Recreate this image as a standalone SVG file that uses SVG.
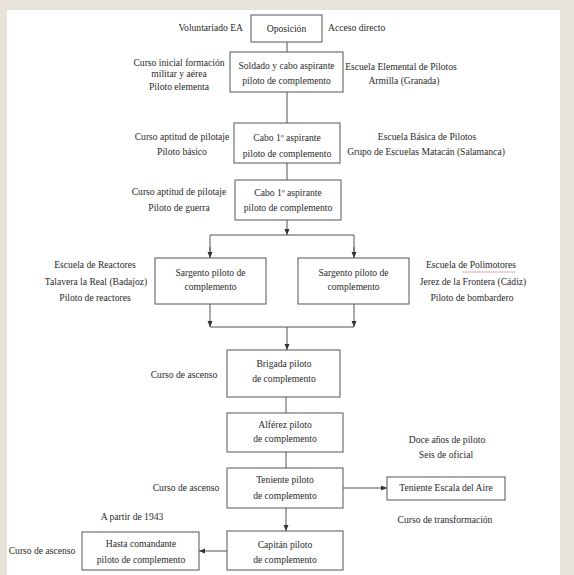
<svg xmlns="http://www.w3.org/2000/svg" width="574" height="575" viewBox="0 0 574 575">
<defs>
<style>
text{font-family:"Liberation Serif","Times New Roman",serif}
.t{font-size:9.6px;fill:#2a2a2a;text-anchor:middle}
.b{fill:#fff;stroke:#555;stroke-width:1}
.c{fill:none;stroke:#555;stroke-width:1}
</style>
<marker id="ah" viewBox="0 0 6 6" refX="6" refY="3" markerWidth="6" markerHeight="6" orient="auto" markerUnits="userSpaceOnUse">
<path d="M0,0.5 L6,3 L0,5.5 Z" fill="#333"/>
</marker>
</defs>
<rect x="0" y="0" width="574" height="575" fill="#e8e4da"/>
<rect x="7" y="10" width="553" height="565" fill="#fff"/>

<g id="connectors">
<line class="c" x1="287" y1="42" x2="287" y2="52"/>
<line class="c" x1="287" y1="92" x2="287" y2="123"/>
<line class="c" x1="287" y1="163" x2="287" y2="180"/>
<line class="c" x1="287" y1="220" x2="287" y2="235" marker-end="url(#ah)"/>
<polyline class="c" points="210,257 210,235 354,235 354,257"/>
<line class="c" x1="210" y1="247" x2="210" y2="258" marker-end="url(#ah)"/>
<line class="c" x1="354" y1="247" x2="354" y2="258" marker-end="url(#ah)"/>
<line class="c" x1="210" y1="304" x2="210" y2="327" marker-end="url(#ah)"/>
<line class="c" x1="354" y1="304" x2="354" y2="327" marker-end="url(#ah)"/>
<line class="c" x1="210" y1="327" x2="354" y2="327"/>
<line class="c" x1="287" y1="327" x2="287" y2="350" marker-end="url(#ah)"/>
<line class="c" x1="286" y1="397" x2="286" y2="413"/>
<line class="c" x1="286" y1="452" x2="286" y2="468"/>
<line class="c" x1="343" y1="488" x2="387" y2="488" marker-end="url(#ah)"/>
<line class="c" x1="286" y1="508" x2="286" y2="531" marker-end="url(#ah)"/>
<line class="c" x1="227" y1="551" x2="199" y2="551" marker-end="url(#ah)"/>
</g>

<g id="n-oposicion">
<rect class="b" x="251" y="15" width="71" height="27"/>
<text class="t" x="286.5" y="32">Oposición</text>
</g>
<g id="l-voluntariado"><text class="t" x="243" y="31" style="text-anchor:end">Voluntariado EA</text></g>
<g id="l-acceso"><text class="t" x="328" y="31" style="text-anchor:start">Acceso directo</text></g>

<g id="n-soldado">
<rect class="b" x="230" y="52" width="113" height="40"/>
<text class="t" x="286.5" y="69">Soldado y cabo aspirante</text>
<text class="t" x="286.5" y="84">piloto de complemento</text>
</g>
<g id="l-curso-inicial">
<text class="t" x="179" y="66">Curso inicial formación</text>
<text class="t" x="179" y="77">militar y aérea</text>
<text class="t" x="179" y="90">Piloto elementa</text>
</g>
<g id="l-escuela-elemental">
<text class="t" x="401" y="70">Escuela Elemental de Pilotos</text>
<text class="t" x="404" y="84">Armilla (Granada)</text>
</g>

<g id="n-cabo1">
<rect class="b" x="234" y="123" width="106" height="40"/>
<text class="t" x="287" y="141">Cabo 1º aspirante</text>
<text class="t" x="287" y="157">piloto de complemento</text>
</g>
<g id="l-aptitud1">
<text class="t" x="182" y="140">Curso aptitud de pilotaje</text>
<text class="t" x="182" y="155">Piloto básico</text>
</g>
<g id="l-escuela-basica">
<text class="t" x="427" y="140">Escuela Básica de Pilotos</text>
<text class="t" x="426" y="155">Grupo de Escuelas Matacán (Salamanca)</text>
</g>

<g id="n-cabo2">
<rect class="b" x="235" y="180" width="106" height="40"/>
<text class="t" x="288" y="196">Cabo 1º aspirante</text>
<text class="t" x="288" y="211">piloto de complemento</text>
</g>
<g id="l-aptitud2">
<text class="t" x="179" y="195">Curso aptitud de pilotaje</text>
<text class="t" x="179" y="211">Piloto de guerra</text>
</g>

<g id="n-sargento-izq">
<rect class="b" x="155" y="258" width="111" height="46"/>
<text class="t" x="210.5" y="276">Sargento piloto de</text>
<text class="t" x="210.5" y="290">complemento</text>
</g>
<g id="l-reactores">
<text class="t" x="95" y="268">Escuela de Reactores</text>
<text class="t" x="96" y="285">Talavera la Real (Badajoz)</text>
<text class="t" x="95" y="301">Piloto de reactores</text>
</g>

<g id="n-sargento-der">
<rect class="b" x="298" y="258" width="111" height="46"/>
<text class="t" x="353.5" y="276">Sargento piloto de</text>
<text class="t" x="353.5" y="290">complemento</text>
</g>
<g id="l-polimotores">
<text class="t" x="471" y="268">Escuela de Polimotores</text>
<path d="M463,272 L516,272" stroke="#d05050" stroke-width="0.8" stroke-dasharray="1.5,0.8" fill="none"/>
<text class="t" x="473" y="285">Jerez de la Frontera (Cádiz)</text>
<text class="t" x="472" y="301">Piloto de bombardero</text>
</g>

<g id="n-brigada">
<rect class="b" x="227" y="350" width="113" height="47"/>
<text class="t" x="284" y="367">Brigada piloto</text>
<text class="t" x="284" y="382">de complemento</text>
</g>
<g id="l-ascenso1"><text class="t" x="184" y="378">Curso de ascenso</text></g>

<g id="n-alferez">
<rect class="b" x="227" y="413" width="116" height="39"/>
<text class="t" x="285" y="428">Alférez piloto</text>
<text class="t" x="285" y="442">de complemento</text>
</g>
<g id="l-doce">
<text class="t" x="447" y="443">Doce años de piloto</text>
<text class="t" x="446" y="458">Seis de oficial</text>
</g>

<g id="n-teniente">
<rect class="b" x="227" y="468" width="116" height="40"/>
<text class="t" x="285" y="483">Teniente piloto</text>
<text class="t" x="285" y="499">de complemento</text>
</g>
<g id="l-ascenso2"><text class="t" x="186" y="491">Curso de ascenso</text></g>

<g id="n-teniente-ea">
<rect class="b" x="387" y="477" width="118" height="23"/>
<text class="t" x="446" y="491">Teniente Escala del Aire</text>
</g>
<g id="l-transformacion"><text class="t" x="445" y="523">Curso de transformación</text></g>

<g id="n-capitan">
<rect class="b" x="227" y="531" width="116" height="39"/>
<text class="t" x="285" y="548">Capitán piloto</text>
<text class="t" x="285" y="563">de complemento</text>
</g>
<g id="l-1943"><text class="t" x="132" y="520">A partir de 1943</text></g>

<g id="n-hasta">
<rect class="b" x="82" y="532" width="117" height="38"/>
<text class="t" x="141" y="547">Hasta comandante</text>
<text class="t" x="141" y="563">piloto de complemento</text>
</g>
<g id="l-ascenso3"><text class="t" x="42" y="554">Curso de ascenso</text></g>
</svg>
